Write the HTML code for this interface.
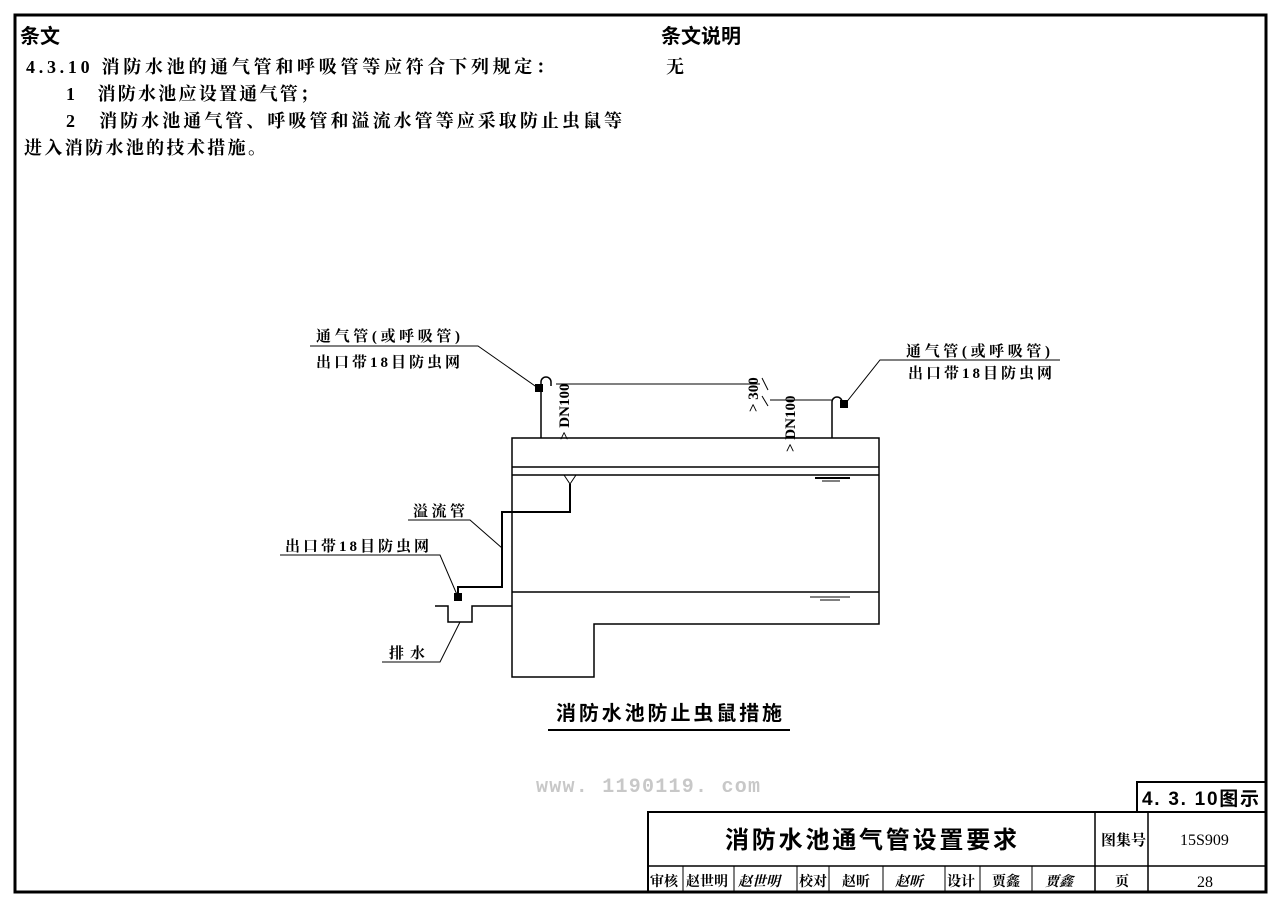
<!DOCTYPE html>
<html><head><meta charset="utf-8"><style>
body{margin:0;background:#fff;}
svg{display:block;}
text{font-family:"Liberation Serif","Noto Serif CJK SC","Noto Sans CJK SC",serif;fill:#000;}
.b{font-family:"Liberation Sans","Noto Sans CJK SC",sans-serif;font-weight:bold;}
</style></head><body>
<svg width="1280" height="903" viewBox="0 0 1280 903" xmlns="http://www.w3.org/2000/svg">
<rect x="15" y="15" width="1251" height="877" fill="none" stroke="#000" stroke-width="3"/>
<text x="20" y="43" font-size="20" class="b">条文</text>
<text x="661" y="43" font-size="20" class="b">条文说明</text>
<g font-size="18" font-weight="bold">
<text x="26" y="73" textLength="528" lengthAdjust="spacing">4.3.10 消防水池的通气管和呼吸管等应符合下列规定：</text>
<text x="666" y="73">无</text>
<text x="66" y="100" textLength="252" lengthAdjust="spacing">1　消防水池应设置通气管；</text>
<text x="66" y="127" textLength="556" lengthAdjust="spacing">2　消防水池通气管、呼吸管和溢流水管等应采取防止虫鼠等</text>
<text x="24" y="154" textLength="242" lengthAdjust="spacing">进入消防水池的技术措施。</text>
</g>

<g fill="none" stroke="#000" stroke-width="1.5">
<path d="M512 438 H879 V624 H594 V677 H512 Z"/>
<line x1="512" y1="467" x2="879" y2="467"/>
<line x1="512" y1="475" x2="879" y2="475"/>
<line x1="512" y1="592" x2="879" y2="592"/>
<path d="M541 438 V382 A5 5 0 0 1 551 382 V386"/>
<path d="M832 438 V402 A5 5 0 0 1 842 402 V405"/>
<line x1="556" y1="384" x2="760" y2="384" stroke-width="1"/>
<line x1="770" y1="400" x2="832" y2="400" stroke-width="1"/>
<line x1="762" y1="378" x2="768" y2="390" stroke-width="1"/>
<line x1="762" y1="396" x2="768" y2="406" stroke-width="1"/>
<path d="M564 475 L570 484 L576 475" stroke-width="1"/>
<path d="M570 484 V512 H502 V587 H458 V597" stroke-width="2"/>
<path d="M435 606 H448 V622 H472 V606 H512"/>
<line x1="810" y1="475" x2="860" y2="475" stroke-width="1"/>
<line x1="815" y1="478" x2="850" y2="478" stroke-width="2"/>
<line x1="822" y1="481" x2="840" y2="481" stroke-width="1"/>
<line x1="810" y1="597" x2="850" y2="597" stroke-width="1"/>
<line x1="820" y1="600" x2="840" y2="600" stroke-width="1"/>
</g>
<rect x="535" y="384" width="8" height="8" fill="#000"/>
<rect x="840" y="400" width="8" height="8" fill="#000"/>
<rect x="454" y="593" width="8" height="8" fill="#000"/>
<g fill="none" stroke="#000" stroke-width="1">
<path d="M310 346 H478 L538 388"/>
<path d="M1060 360 H880 L845 404"/>
<path d="M408 520 H470 L502 548"/>
<path d="M280 555 H440 L458 597"/>
<path d="M382 662 H440 L460 622"/>
</g>
<g font-size="15" font-weight="bold">
<text x="316" y="341" textLength="144" lengthAdjust="spacing">通气管(或呼吸管)</text>
<text x="316" y="367" textLength="144" lengthAdjust="spacing">出口带18目防虫网</text>
<text x="906" y="356" textLength="144" lengthAdjust="spacing">通气管(或呼吸管)</text>
<text x="908" y="378" textLength="144" lengthAdjust="spacing">出口带18目防虫网</text>
<text x="413" y="516" textLength="52" lengthAdjust="spacing">溢流管</text>
<text x="285" y="551" textLength="144" lengthAdjust="spacing">出口带18目防虫网</text>
<text x="389" y="658" textLength="36" lengthAdjust="spacing">排水</text>
<text transform="translate(569,440) rotate(-90)" font-size="15">&gt; DN100</text>
<text transform="translate(795,452) rotate(-90)" font-size="15">&gt; DN100</text>
<text transform="translate(758,412) rotate(-90)" font-size="15">&gt; 300</text>
</g>
<text x="556" y="720" font-size="20" class="b" textLength="226" lengthAdjust="spacing">消防水池防止虫鼠措施</text>
<line x1="548" y1="730" x2="790" y2="730" stroke="#000" stroke-width="2"/>
<text x="536" y="792" font-size="20" textLength="224" lengthAdjust="spacing" style="font-family:'Liberation Mono',monospace;font-weight:bold;fill:#c8c8c8">www. 1190119. com</text>

<g fill="none" stroke="#000" stroke-width="2">
<rect x="1137" y="782" width="129" height="30"/>
<rect x="648" y="812" width="618" height="80"/>
<line x1="648" y1="866" x2="1266" y2="866" stroke-width="1.5"/>
<line x1="1095" y1="812" x2="1095" y2="892" stroke-width="1.5"/>
<line x1="1148" y1="812" x2="1148" y2="892" stroke-width="1.5"/>
<g stroke-width="1">
<line x1="683" y1="866" x2="683" y2="892"/>
<line x1="734" y1="866" x2="734" y2="892"/>
<line x1="797" y1="866" x2="797" y2="892"/>
<line x1="829" y1="866" x2="829" y2="892"/>
<line x1="883" y1="866" x2="883" y2="892"/>
<line x1="945" y1="866" x2="945" y2="892"/>
<line x1="980" y1="866" x2="980" y2="892"/>
<line x1="1032" y1="866" x2="1032" y2="892"/>
</g></g>
<text x="1142" y="805" font-size="19" class="b" textLength="117" lengthAdjust="spacing">4. 3. 10图示</text>
<text x="725" y="848" font-size="24" class="b" textLength="292" lengthAdjust="spacing">消防水池通气管设置要求</text>
<text x="1101" y="845" font-size="15" font-weight="bold">图集号</text>
<text x="1180" y="845" font-size="16">15S909</text>
<text x="650" y="886" font-size="14" font-weight="bold">审核</text>
<text x="686" y="886" font-size="14" font-weight="bold">赵世明</text>
<text x="738" y="886" font-size="14" font-style="italic" font-weight="bold">赵世明</text>
<text x="799" y="886" font-size="14" font-weight="bold">校对</text>
<text x="842" y="886" font-size="14" font-weight="bold">赵昕</text>
<text x="895" y="886" font-size="14" font-style="italic" font-weight="bold">赵昕</text>
<text x="947" y="886" font-size="14" font-weight="bold">设计</text>
<text x="992" y="886" font-size="14" font-weight="bold">贾鑫</text>
<text x="1045" y="886" font-size="14" font-style="italic" font-weight="bold">贾鑫</text>
<text x="1115" y="886" font-size="14" font-weight="bold">页</text>
<text x="1197" y="887" font-size="16">28</text>
</svg>
</body></html>
